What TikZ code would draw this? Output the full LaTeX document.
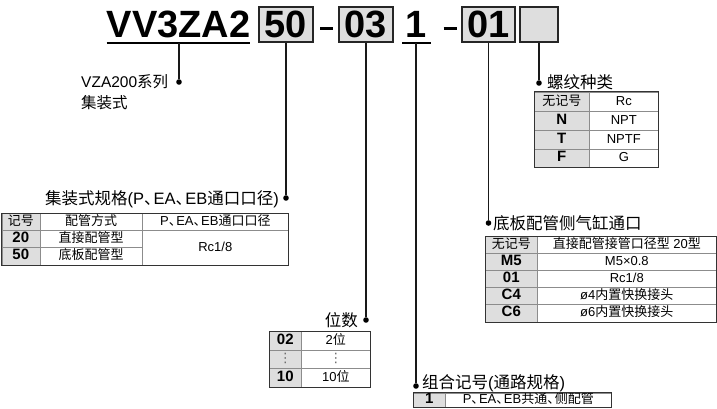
\documentclass[tikz,border=0pt]{standalone}
\usepackage{fontspec}
\setmainfont{Liberation Sans}
\newfontfamily\cjk{Noto Sans CJK SC}
\newfontfamily\dejavu{DejaVu Sans}
\newcommand\zh[1]{{\cjk #1}}
\newcommand\dun{\zh{、}\kern-0.42em}
\newcommand\tc[7]{\node[#6, minimum width=#4, minimum height=#5] (#1) at (#2,#3) {#7};}
\definecolor{cellgray}{RGB}{222,222,222}
\begin{document}
\begin{tikzpicture}[x=1pt,y=-1pt,
  title/.style={font=\fontsize{38}{40}\selectfont\bfseries, inner sep=0},
  codebox/.style={draw=black!85, line width=1.3, fill=cellgray, minimum height=35, inner sep=0, font=\fontsize{38}{40}\selectfont\bfseries},
  dot/.style={circle, fill=black, inner sep=0, minimum size=5.6},
  lead/.style={line width=1.1, black!90},
  uline/.style={line width=1.4},
  lbl/.style={font=\fontsize{15.5}{18}\selectfont, inner sep=0},
  head/.style={font=\fontsize{16.5}{19}\selectfont, inner sep=0},
  cell/.style={draw=black!45, line width=0.6, anchor=north west, inner sep=0, text height=9.5, text depth=2.5, font=\fontsize{13}{15}\selectfont},
  keyn/.style={cell, fill=cellgray},
  key/.style={cell, fill=cellgray, font=\fontsize{15}{17}\selectfont\bfseries},
  frame/.style={draw=black!80, line width=1},
]
\useasboundingbox (0,0) rectangle (717,409);

% ---- model code ----
\node[title, anchor=base west] (code) at (106.5,37.5) {VV3ZA2};
\node[codebox, minimum width=54] (b50) at (286,24.5) {50};
\node[inner sep=0, anchor=base] (dash1) at (326.5,37.5) {\rule[7pt]{13pt}{3.2pt}};
\node[codebox, minimum width=54] (b03) at (366,24.5) {03};
\node[title, anchor=base] (n1) at (416,37.5) {1};
\node[inner sep=0, anchor=base] (dash2) at (450,37.5) {\rule[7pt]{13pt}{3.2pt}};
\node[codebox, minimum width=53] (b01) at (488.5,24.5) {01};
\node[codebox, minimum width=38] (bE) at (539,24.5) {};

\coordinate (ulA) at (106.5,43);
\coordinate (ulB) at (250,43);
\coordinate (ulC) at (402,43);
\coordinate (ulD) at (431,43);
\draw[uline] (ulA) -- (ulB);
\draw[uline] (ulC) -- (ulD);

% ---- dots ----
\node[dot] (d1) at (179,82) {};
\node[dot] (d2) at (286,198) {};
\node[dot] (d3) at (366,320) {};
\node[dot] (d4) at (416,386) {};
\node[dot] (d5) at (488.5,223) {};
\node[dot] (d6) at (539,83) {};

\coordinate (u1) at (179,43);
\coordinate (u4) at (416,43);
\draw[lead] (u1) -- (d1);
\draw[lead] (b50.south) -- (d2);
\draw[lead] (b03.south) -- (d3);
\draw[lead] (u4) -- (d4);
\draw[lead] (b01.south) -- (d5);
\draw[lead] (bE.south) -- (d6);

% ---- series label ----
\node[lbl, anchor=base west] (s1) at (81,88) {VZA200\zh{系列}};
\node[lbl, anchor=base west] (s2) at (81,109) {\zh{集装式}};

% ---- manifold spec table ----
\node[head, anchor=base east] (h1) at (279,204) {\zh{集装式规格}(P\dun EA\dun EB\zh{通口口径})};
\tc{ta1}{1.5}{213}{38}{17}{keyn}{\zh{记号}}
\tc{ta2}{39.5}{213}{102.5}{17}{cell}{\zh{配管方式}}
\tc{ta3}{142}{213}{146}{17}{cell}{P\dun EA\dun EB\zh{通口口径}}
\tc{tb1}{1.5}{230}{38}{16.5}{key}{20}
\tc{tb2}{39.5}{230}{102.5}{16.5}{cell}{\zh{直接配管型}}
\tc{tc1}{1.5}{246.5}{38}{18.5}{key}{50}
\tc{tc2}{39.5}{246.5}{102.5}{18.5}{cell}{\zh{底板配管型}}
\tc{tb3}{142}{230}{146}{35}{cell}{Rc1/8}
\draw[frame] (ta1.north west) rectangle (tb3.south east);

% ---- thread table ----
\node[head, anchor=base west] (h6) at (547,89) {\zh{螺纹种类}};
\tc{tr1a}{534}{92}{55}{19}{keyn}{\zh{无记号}}
\tc{tr1b}{589}{92}{69}{19}{cell}{Rc}
\tc{tr2a}{534}{111}{55}{19}{key}{N}
\tc{tr2b}{589}{111}{69}{19}{cell}{NPT}
\tc{tr3a}{534}{130}{55}{19}{key}{T}
\tc{tr3b}{589}{130}{69}{19}{cell}{NPTF}
\tc{tr4a}{534}{149}{55}{18}{key}{F}
\tc{tr4b}{589}{149}{69}{18}{cell}{G}
\draw[frame] (tr1a.north west) rectangle (tr4b.south east);

% ---- cylinder port table ----
\node[head, anchor=base west] (h5) at (493,229) {\zh{底板配管侧气缸通口}};
\tc{tp1a}{485}{236}{52}{17}{keyn}{\zh{无记号}}
\tc{tp1b}{537}{236}{179}{17}{cell}{\zh{直接配管接管口径型} 20\zh{型}}
\tc{tp2a}{485}{253}{52}{17}{key}{M5}
\tc{tp2b}{537}{253}{179}{17}{cell}{M5×0.8}
\tc{tp3a}{485}{270}{52}{17}{key}{01}
\tc{tp3b}{537}{270}{179}{17}{cell}{Rc1/8}
\tc{tp4a}{485}{287}{52}{17}{key}{C4}
\tc{tp4b}{537}{287}{179}{17}{cell}{ø4\zh{内置快换接头}}
\tc{tp5a}{485}{304}{52}{18}{key}{C6}
\tc{tp5b}{537}{304}{179}{18}{cell}{ø6\zh{内置快换接头}}
\draw[frame] (tp1a.north west) rectangle (tp5b.south east);

% ---- stations table ----
\node[head, anchor=base east] (h3) at (358,326) {\zh{位数}};
\tc{ts1a}{269}{331}{32}{18.5}{key}{02}
\tc{ts1b}{301}{331}{69}{18.5}{cell}{2\zh{位}}
\tc{ts2a}{269}{349.5}{32}{18.5}{keyn}{\color{black!60}\dejavu ⋮}
\tc{ts2b}{301}{349.5}{69}{18.5}{cell}{\color{black!60}\dejavu ⋮}
\tc{ts3a}{269}{368}{32}{19}{key}{10}
\tc{ts3b}{301}{368}{69}{19}{cell}{10\zh{位}}
\draw[frame] (ts1a.north west) rectangle (ts3b.south east);

% ---- combination table ----
\node[head, anchor=base west] (h4) at (422,388) {\zh{组合记号}(\zh{通路规格})};
\tc{tk1a}{413}{392.5}{32}{14.5}{key}{1}
\tc{tk1b}{445}{392.5}{166}{14.5}{cell}{P\dun EA\dun EB\zh{共通}\dun\zh{侧配管}}
\draw[frame] (tk1a.north west) rectangle (tk1b.south east);
\end{tikzpicture}
\end{document}
